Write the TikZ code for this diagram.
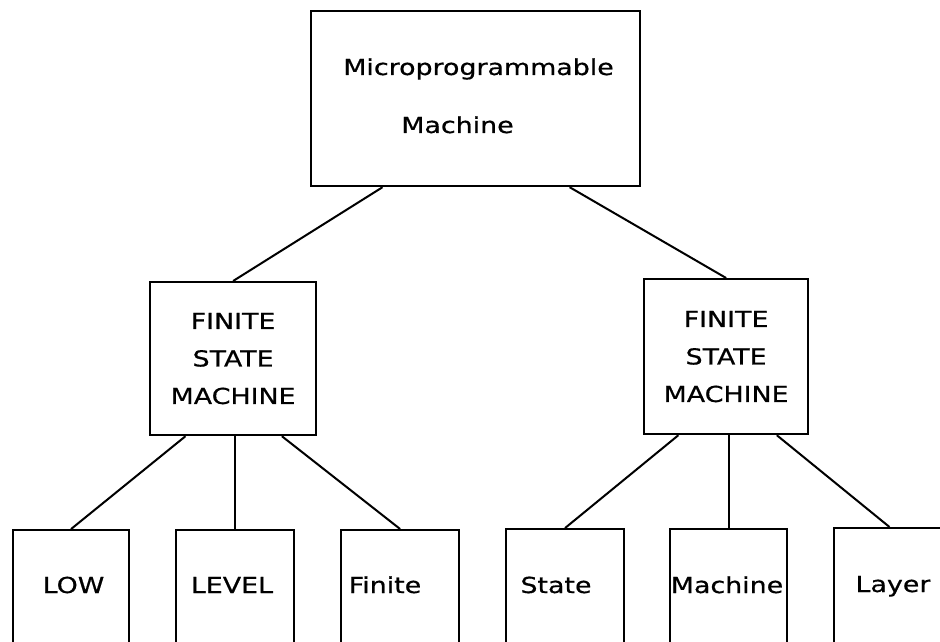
\documentclass[tikz,border=0pt]{standalone}
\usepackage{fontspec}
\newfontfamily\plotfont{DejaVu Sans}[FakeStretch=1.22,FakeBold=0.6]
\usetikzlibrary{calc}
\begin{document}
\begin{tikzpicture}[x=1bp,y=-1bp,
  every node/.style={font=\plotfont\fontsize{22bp}{37.5bp}\selectfont},
  box/.style={draw,line width=2.2bp,rectangle,inner sep=0pt,anchor=north west},
  txt/.style={anchor=base,inner sep=0pt},
  link/.style={line width=2bp}]
\clip (0,0) rectangle (940,642);
\fill[white] (0,0) rectangle (940,642);
% top box
\node[box,minimum width=329bp,minimum height=175bp] (top) at (310,10) {};
\node[txt] (t1) at (478.5,75) {Microprogrammable};
\node[txt] (t2) at (457.5,133) {Machine};
% middle boxes
\node[box,minimum width=166bp,minimum height=153bp,align=center] (fsmL) at (149,281) {FINITE\\STATE\\MACHINE};
\node[box,minimum width=164bp,minimum height=155bp,align=center] (fsmR) at (643,278) {FINITE\\STATE\\MACHINE};
% leaf boxes
\node[box,minimum width=116bp,minimum height=140bp] (low) at (12,529) {};
\node[box,minimum width=118bp,minimum height=140bp] (level) at (175,529) {};
\node[box,minimum width=118bp,minimum height=140bp] (finite) at (340,529) {};
\node[box,minimum width=118bp,minimum height=140bp] (state) at (505,528) {};
\node[box,minimum width=117bp,minimum height=140bp] (machine) at (669,528) {};
\node[box,minimum width=118bp,minimum height=140bp] (layer) at (833,527) {};
\node[txt] (lowt) at (73.5,593) {LOW};
\node[txt] (levelt) at (232,593) {LEVEL};
\node[txt] (finitet) at (385,593) {Finite};
\node[txt] (statet) at (556,593) {State};
\node[txt] (machinet) at (727,593) {Machine};
\node[txt] (layert) at (893,592) {Layer};
% connectors
\draw[link] ($(top.south west)!0.219!(top.south east)$) -- (fsmL.north);
\draw[link] ($(top.south west)!0.784!(top.south east)$) -- (fsmR.north);
\draw[link] ($(fsmL.south west)!0.217!(fsmL.south east)$) -- (low.north);
\draw[link] (level.north) -- (level.north |- fsmL.south);
\draw[link] ($(fsmL.south west)!0.79!(fsmL.south east)$) -- (finite.north);
\draw[link] ($(fsmR.south west)!0.213!(fsmR.south east)$) -- (state.north);
\draw[link] (machine.north) -- (machine.north |- fsmR.south);
\draw[link] ($(fsmR.south west)!0.805!(fsmR.south east)$) -- ($(layer.north west)!0.47!(layer.north east)$);
\end{tikzpicture}
\end{document}
